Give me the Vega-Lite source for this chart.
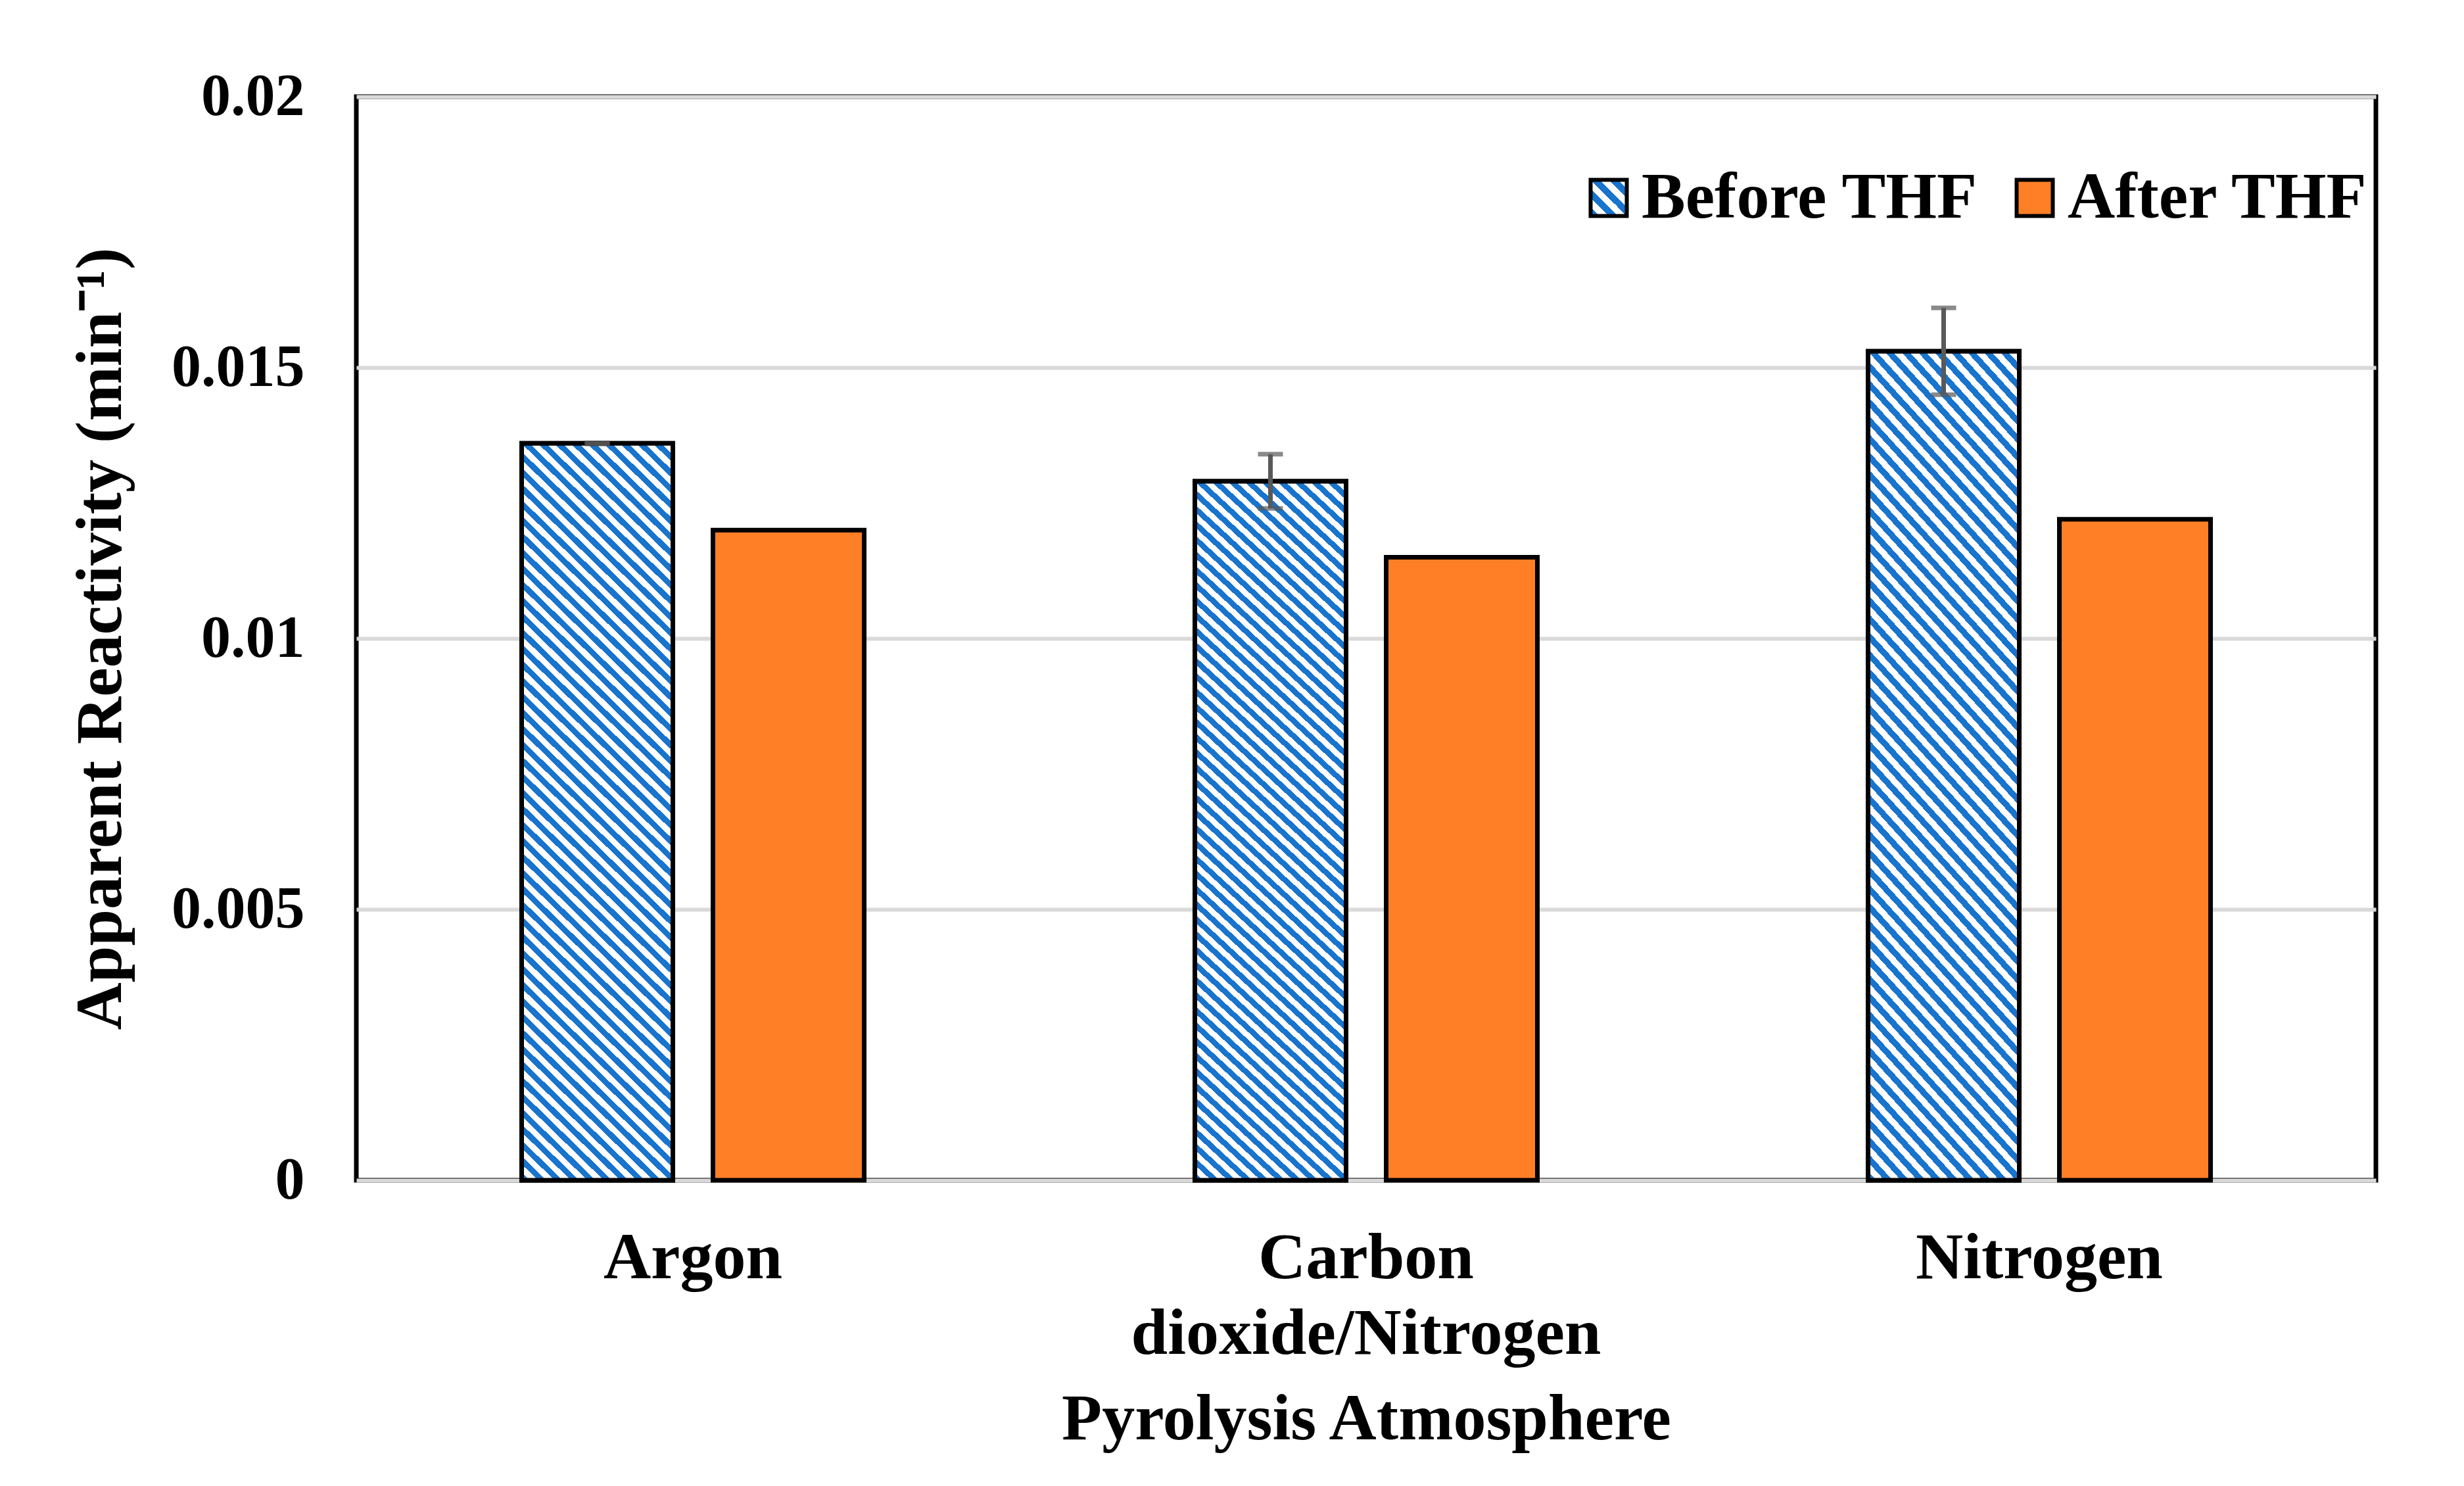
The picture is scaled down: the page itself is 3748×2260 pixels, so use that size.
{
  "$schema": "https://vega.github.io/schema/vega-lite/v6.json",
  "autosize": "none",
  "width": 3072,
  "height": 1648,
  "padding": {"left": 542, "top": 147, "right": 134, "bottom": 465},
  "background": "white",
  "config": {
    "font": "Liberation Serif",
    "view": {"stroke": "black", "strokeWidth": 7},
    "axis": {"labelFont": "Liberation Serif", "titleFont": "Liberation Serif", "labelFontWeight": "bold", "titleFontWeight": "bold", "labelColor": "black", "titleColor": "black", "labelLimit": 0, "titleLimit": 0, "labelOverlap": false},
    "legend": {"labelFont": "Liberation Serif", "labelFontWeight": "bold", "labelColor": "black", "labelLimit": 0}
  },
  "data": {
    "values": [
      {"atm": "Argon", "series": "Before THF", "value": 0.0136, "lo": 0.01359, "hi": 0.01361},
      {"atm": "Argon", "series": "After THF", "value": 0.012},
      {"atm": "Carbon dioxide/Nitrogen", "series": "Before THF", "value": 0.0129, "lo": 0.0124, "hi": 0.0134},
      {"atm": "Carbon dioxide/Nitrogen", "series": "After THF", "value": 0.0115},
      {"atm": "Nitrogen", "series": "Before THF", "value": 0.0153, "lo": 0.0145, "hi": 0.0161},
      {"atm": "Nitrogen", "series": "After THF", "value": 0.0122}
    ]
  },
  "encoding": {
    "x": {
      "field": "atm", "type": "nominal",
      "sort": ["Argon", "Carbon dioxide/Nitrogen", "Nitrogen"],
      "scale": {"paddingInner": 0.4912, "paddingOuter": 0.2456},
      "axis": {
        "title": "Pyrolysis Atmosphere",
        "labelAngle": 0, "ticks": false, "tickSize": 0, "domain": false,
        "labelFontSize": 100, "labelPadding": 69, "labelLineHeight": 115,
        "labelExpr": "datum.value == 'Carbon dioxide/Nitrogen' ? ['Carbon', 'dioxide/Nitrogen'] : datum.label",
        "titleFontSize": 100, "titlePadding": 114
      }
    },
    "xOffset": {
      "field": "series", "type": "nominal",
      "sort": ["Before THF", "After THF"],
      "scale": {"domain": ["Before THF", "After THF"], "paddingInner": 0.2096, "paddingOuter": 0}
    }
  },
  "layer": [
    {
      "mark": {"type": "bar", "stroke": "black", "strokeWidth": 7},
      "encoding": {
        "y": {
          "field": "value", "type": "quantitative",
          "scale": {"domain": [0, 0.02], "nice": false, "zero": true},
          "axis": {
            "title": "Apparent Reactivity (min⁻¹)",
            "values": [0, 0.005, 0.01, 0.015, 0.02], "format": "~g",
            "ticks": false, "tickSize": 0, "domain": false,
            "grid": true, "gridColor": "#d9d9d9", "gridWidth": 6,
            "labelFontSize": 90, "labelPadding": 79,
            "titleFontSize": 100, "titlePadding": 138
          }
        },
        "fill": {
          "field": "series", "type": "nominal",
          "scale": {
            "domain": ["Before THF", "After THF"],
            "range": [
              {"expr": "{gradient:'linear',x1:0,y1:1,x2:1,y2:0,stops:[{offset:0,color:'#1874cd'},{offset:0.125,color:'#1874cd'},{offset:0.125,color:'#ffffff'},{offset:0.25,color:'#ffffff'},{offset:0.25,color:'#1874cd'},{offset:0.375,color:'#1874cd'},{offset:0.375,color:'#ffffff'},{offset:0.5,color:'#ffffff'},{offset:0.5,color:'#1874cd'},{offset:0.625,color:'#1874cd'},{offset:0.625,color:'#ffffff'},{offset:0.75,color:'#ffffff'},{offset:0.75,color:'#1874cd'},{offset:0.875,color:'#1874cd'},{offset:0.875,color:'#ffffff'},{offset:1,color:'#ffffff'}]}"},
              "#ff7f27"
            ]
          },
          "legend": {
            "title": null, "orient": "none", "legendX": 1855, "legendY": 104,
            "direction": "horizontal", "padding": 0,
            "symbolType": "square", "symbolSize": 3025,
            "symbolStrokeColor": "black", "symbolStrokeWidth": 6,
            "labelFontSize": 100, "labelOffset": 0, "columnPadding": 36
          }
        }
      }
    },
    {
      "transform": [{"filter": "datum.series == 'Before THF'"}],
      "mark": {
        "type": "bar", "stroke": "black", "strokeWidth": 7,
        "fill": {
          "gradient": "linear", "x1": 0, "y1": 1, "x2": 0.2612, "y2": -0.306,
          "stops": [
            {"offset": 0, "color": "#1874cd"}, {"offset": 0.008, "color": "#1874cd"},
            {"offset": 0.008, "color": "#ffffff"}, {"offset": 0.016, "color": "#ffffff"},
            {"offset": 0.016, "color": "#1874cd"}, {"offset": 0.024, "color": "#1874cd"},
            {"offset": 0.024, "color": "#ffffff"}, {"offset": 0.032, "color": "#ffffff"},
            {"offset": 0.032, "color": "#1874cd"}, {"offset": 0.04, "color": "#1874cd"},
            {"offset": 0.04, "color": "#ffffff"}, {"offset": 0.048, "color": "#ffffff"},
            {"offset": 0.048, "color": "#1874cd"}, {"offset": 0.056, "color": "#1874cd"},
            {"offset": 0.056, "color": "#ffffff"}, {"offset": 0.064, "color": "#ffffff"},
            {"offset": 0.064, "color": "#1874cd"}, {"offset": 0.072, "color": "#1874cd"},
            {"offset": 0.072, "color": "#ffffff"}, {"offset": 0.08, "color": "#ffffff"},
            {"offset": 0.08, "color": "#1874cd"}, {"offset": 0.088, "color": "#1874cd"},
            {"offset": 0.088, "color": "#ffffff"}, {"offset": 0.096, "color": "#ffffff"},
            {"offset": 0.096, "color": "#1874cd"}, {"offset": 0.104, "color": "#1874cd"},
            {"offset": 0.104, "color": "#ffffff"}, {"offset": 0.112, "color": "#ffffff"},
            {"offset": 0.112, "color": "#1874cd"}, {"offset": 0.12, "color": "#1874cd"},
            {"offset": 0.12, "color": "#ffffff"}, {"offset": 0.128, "color": "#ffffff"},
            {"offset": 0.128, "color": "#1874cd"}, {"offset": 0.136, "color": "#1874cd"},
            {"offset": 0.136, "color": "#ffffff"}, {"offset": 0.144, "color": "#ffffff"},
            {"offset": 0.144, "color": "#1874cd"}, {"offset": 0.152, "color": "#1874cd"},
            {"offset": 0.152, "color": "#ffffff"}, {"offset": 0.16, "color": "#ffffff"},
            {"offset": 0.16, "color": "#1874cd"}, {"offset": 0.168, "color": "#1874cd"},
            {"offset": 0.168, "color": "#ffffff"}, {"offset": 0.176, "color": "#ffffff"},
            {"offset": 0.176, "color": "#1874cd"}, {"offset": 0.184, "color": "#1874cd"},
            {"offset": 0.184, "color": "#ffffff"}, {"offset": 0.192, "color": "#ffffff"},
            {"offset": 0.192, "color": "#1874cd"}, {"offset": 0.2, "color": "#1874cd"},
            {"offset": 0.2, "color": "#ffffff"}, {"offset": 0.208, "color": "#ffffff"},
            {"offset": 0.208, "color": "#1874cd"}, {"offset": 0.216, "color": "#1874cd"},
            {"offset": 0.216, "color": "#ffffff"}, {"offset": 0.224, "color": "#ffffff"},
            {"offset": 0.224, "color": "#1874cd"}, {"offset": 0.232, "color": "#1874cd"},
            {"offset": 0.232, "color": "#ffffff"}, {"offset": 0.24, "color": "#ffffff"},
            {"offset": 0.24, "color": "#1874cd"}, {"offset": 0.248, "color": "#1874cd"},
            {"offset": 0.248, "color": "#ffffff"}, {"offset": 0.256, "color": "#ffffff"},
            {"offset": 0.256, "color": "#1874cd"}, {"offset": 0.264, "color": "#1874cd"},
            {"offset": 0.264, "color": "#ffffff"}, {"offset": 0.272, "color": "#ffffff"},
            {"offset": 0.272, "color": "#1874cd"}, {"offset": 0.28, "color": "#1874cd"},
            {"offset": 0.28, "color": "#ffffff"}, {"offset": 0.288, "color": "#ffffff"},
            {"offset": 0.288, "color": "#1874cd"}, {"offset": 0.296, "color": "#1874cd"},
            {"offset": 0.296, "color": "#ffffff"}, {"offset": 0.304, "color": "#ffffff"},
            {"offset": 0.304, "color": "#1874cd"}, {"offset": 0.312, "color": "#1874cd"},
            {"offset": 0.312, "color": "#ffffff"}, {"offset": 0.32, "color": "#ffffff"},
            {"offset": 0.32, "color": "#1874cd"}, {"offset": 0.328, "color": "#1874cd"},
            {"offset": 0.328, "color": "#ffffff"}, {"offset": 0.336, "color": "#ffffff"},
            {"offset": 0.336, "color": "#1874cd"}, {"offset": 0.344, "color": "#1874cd"},
            {"offset": 0.344, "color": "#ffffff"}, {"offset": 0.352, "color": "#ffffff"},
            {"offset": 0.352, "color": "#1874cd"}, {"offset": 0.36, "color": "#1874cd"},
            {"offset": 0.36, "color": "#ffffff"}, {"offset": 0.368, "color": "#ffffff"},
            {"offset": 0.368, "color": "#1874cd"}, {"offset": 0.376, "color": "#1874cd"},
            {"offset": 0.376, "color": "#ffffff"}, {"offset": 0.384, "color": "#ffffff"},
            {"offset": 0.384, "color": "#1874cd"}, {"offset": 0.392, "color": "#1874cd"},
            {"offset": 0.392, "color": "#ffffff"}, {"offset": 0.4, "color": "#ffffff"},
            {"offset": 0.4, "color": "#1874cd"}, {"offset": 0.408, "color": "#1874cd"},
            {"offset": 0.408, "color": "#ffffff"}, {"offset": 0.416, "color": "#ffffff"},
            {"offset": 0.416, "color": "#1874cd"}, {"offset": 0.424, "color": "#1874cd"},
            {"offset": 0.424, "color": "#ffffff"}, {"offset": 0.432, "color": "#ffffff"},
            {"offset": 0.432, "color": "#1874cd"}, {"offset": 0.44, "color": "#1874cd"},
            {"offset": 0.44, "color": "#ffffff"}, {"offset": 0.448, "color": "#ffffff"},
            {"offset": 0.448, "color": "#1874cd"}, {"offset": 0.456, "color": "#1874cd"},
            {"offset": 0.456, "color": "#ffffff"}, {"offset": 0.464, "color": "#ffffff"},
            {"offset": 0.464, "color": "#1874cd"}, {"offset": 0.472, "color": "#1874cd"},
            {"offset": 0.472, "color": "#ffffff"}, {"offset": 0.48, "color": "#ffffff"},
            {"offset": 0.48, "color": "#1874cd"}, {"offset": 0.488, "color": "#1874cd"},
            {"offset": 0.488, "color": "#ffffff"}, {"offset": 0.496, "color": "#ffffff"},
            {"offset": 0.496, "color": "#1874cd"}, {"offset": 0.504, "color": "#1874cd"},
            {"offset": 0.504, "color": "#ffffff"}, {"offset": 0.512, "color": "#ffffff"},
            {"offset": 0.512, "color": "#1874cd"}, {"offset": 0.52, "color": "#1874cd"},
            {"offset": 0.52, "color": "#ffffff"}, {"offset": 0.528, "color": "#ffffff"},
            {"offset": 0.528, "color": "#1874cd"}, {"offset": 0.536, "color": "#1874cd"},
            {"offset": 0.536, "color": "#ffffff"}, {"offset": 0.544, "color": "#ffffff"},
            {"offset": 0.544, "color": "#1874cd"}, {"offset": 0.552, "color": "#1874cd"},
            {"offset": 0.552, "color": "#ffffff"}, {"offset": 0.56, "color": "#ffffff"},
            {"offset": 0.56, "color": "#1874cd"}, {"offset": 0.568, "color": "#1874cd"},
            {"offset": 0.568, "color": "#ffffff"}, {"offset": 0.576, "color": "#ffffff"},
            {"offset": 0.576, "color": "#1874cd"}, {"offset": 0.584, "color": "#1874cd"},
            {"offset": 0.584, "color": "#ffffff"}, {"offset": 0.592, "color": "#ffffff"},
            {"offset": 0.592, "color": "#1874cd"}, {"offset": 0.6, "color": "#1874cd"},
            {"offset": 0.6, "color": "#ffffff"}, {"offset": 0.608, "color": "#ffffff"},
            {"offset": 0.608, "color": "#1874cd"}, {"offset": 0.616, "color": "#1874cd"},
            {"offset": 0.616, "color": "#ffffff"}, {"offset": 0.624, "color": "#ffffff"},
            {"offset": 0.624, "color": "#1874cd"}, {"offset": 0.632, "color": "#1874cd"},
            {"offset": 0.632, "color": "#ffffff"}, {"offset": 0.64, "color": "#ffffff"},
            {"offset": 0.64, "color": "#1874cd"}, {"offset": 0.648, "color": "#1874cd"},
            {"offset": 0.648, "color": "#ffffff"}, {"offset": 0.656, "color": "#ffffff"},
            {"offset": 0.656, "color": "#1874cd"}, {"offset": 0.664, "color": "#1874cd"},
            {"offset": 0.664, "color": "#ffffff"}, {"offset": 0.672, "color": "#ffffff"},
            {"offset": 0.672, "color": "#1874cd"}, {"offset": 0.68, "color": "#1874cd"},
            {"offset": 0.68, "color": "#ffffff"}, {"offset": 0.688, "color": "#ffffff"},
            {"offset": 0.688, "color": "#1874cd"}, {"offset": 0.696, "color": "#1874cd"},
            {"offset": 0.696, "color": "#ffffff"}, {"offset": 0.704, "color": "#ffffff"},
            {"offset": 0.704, "color": "#1874cd"}, {"offset": 0.712, "color": "#1874cd"},
            {"offset": 0.712, "color": "#ffffff"}, {"offset": 0.72, "color": "#ffffff"},
            {"offset": 0.72, "color": "#1874cd"}, {"offset": 0.728, "color": "#1874cd"},
            {"offset": 0.728, "color": "#ffffff"}, {"offset": 0.736, "color": "#ffffff"},
            {"offset": 0.736, "color": "#1874cd"}, {"offset": 0.744, "color": "#1874cd"},
            {"offset": 0.744, "color": "#ffffff"}, {"offset": 0.752, "color": "#ffffff"},
            {"offset": 0.752, "color": "#1874cd"}, {"offset": 0.76, "color": "#1874cd"},
            {"offset": 0.76, "color": "#ffffff"}, {"offset": 0.768, "color": "#ffffff"},
            {"offset": 0.768, "color": "#1874cd"}, {"offset": 0.776, "color": "#1874cd"},
            {"offset": 0.776, "color": "#ffffff"}, {"offset": 0.784, "color": "#ffffff"},
            {"offset": 0.784, "color": "#1874cd"}, {"offset": 0.792, "color": "#1874cd"},
            {"offset": 0.792, "color": "#ffffff"}, {"offset": 0.8, "color": "#ffffff"},
            {"offset": 0.8, "color": "#1874cd"}, {"offset": 0.808, "color": "#1874cd"},
            {"offset": 0.808, "color": "#ffffff"}, {"offset": 0.816, "color": "#ffffff"},
            {"offset": 0.816, "color": "#1874cd"}, {"offset": 0.824, "color": "#1874cd"},
            {"offset": 0.824, "color": "#ffffff"}, {"offset": 0.832, "color": "#ffffff"},
            {"offset": 0.832, "color": "#1874cd"}, {"offset": 0.84, "color": "#1874cd"},
            {"offset": 0.84, "color": "#ffffff"}, {"offset": 0.848, "color": "#ffffff"},
            {"offset": 0.848, "color": "#1874cd"}, {"offset": 0.856, "color": "#1874cd"},
            {"offset": 0.856, "color": "#ffffff"}, {"offset": 0.864, "color": "#ffffff"},
            {"offset": 0.864, "color": "#1874cd"}, {"offset": 0.872, "color": "#1874cd"},
            {"offset": 0.872, "color": "#ffffff"}, {"offset": 0.88, "color": "#ffffff"},
            {"offset": 0.88, "color": "#1874cd"}, {"offset": 0.888, "color": "#1874cd"},
            {"offset": 0.888, "color": "#ffffff"}, {"offset": 0.896, "color": "#ffffff"},
            {"offset": 0.896, "color": "#1874cd"}, {"offset": 0.904, "color": "#1874cd"},
            {"offset": 0.904, "color": "#ffffff"}, {"offset": 0.912, "color": "#ffffff"}
          ]
        }
      },
      "encoding": {
        "y": {"field": "value", "type": "quantitative"}
      }
    },
    {
      "transform": [{"filter": "datum.series == 'Before THF'"}],
      "mark": {"type": "rule", "color": "#595959", "strokeWidth": 7},
      "encoding": {
        "y": {"field": "lo", "type": "quantitative"},
        "y2": {"field": "hi"}
      }
    },
    {
      "transform": [{"filter": "datum.series == 'Before THF'"}],
      "mark": {"type": "tick", "color": "#595959", "size": 38, "thickness": 7, "orient": "horizontal"},
      "encoding": {
        "y": {"field": "lo", "type": "quantitative"}
      }
    },
    {
      "transform": [{"filter": "datum.series == 'Before THF'"}],
      "mark": {"type": "tick", "color": "#595959", "size": 38, "thickness": 7, "orient": "horizontal"},
      "encoding": {
        "y": {"field": "hi", "type": "quantitative"}
      }
    }
  ]
}
